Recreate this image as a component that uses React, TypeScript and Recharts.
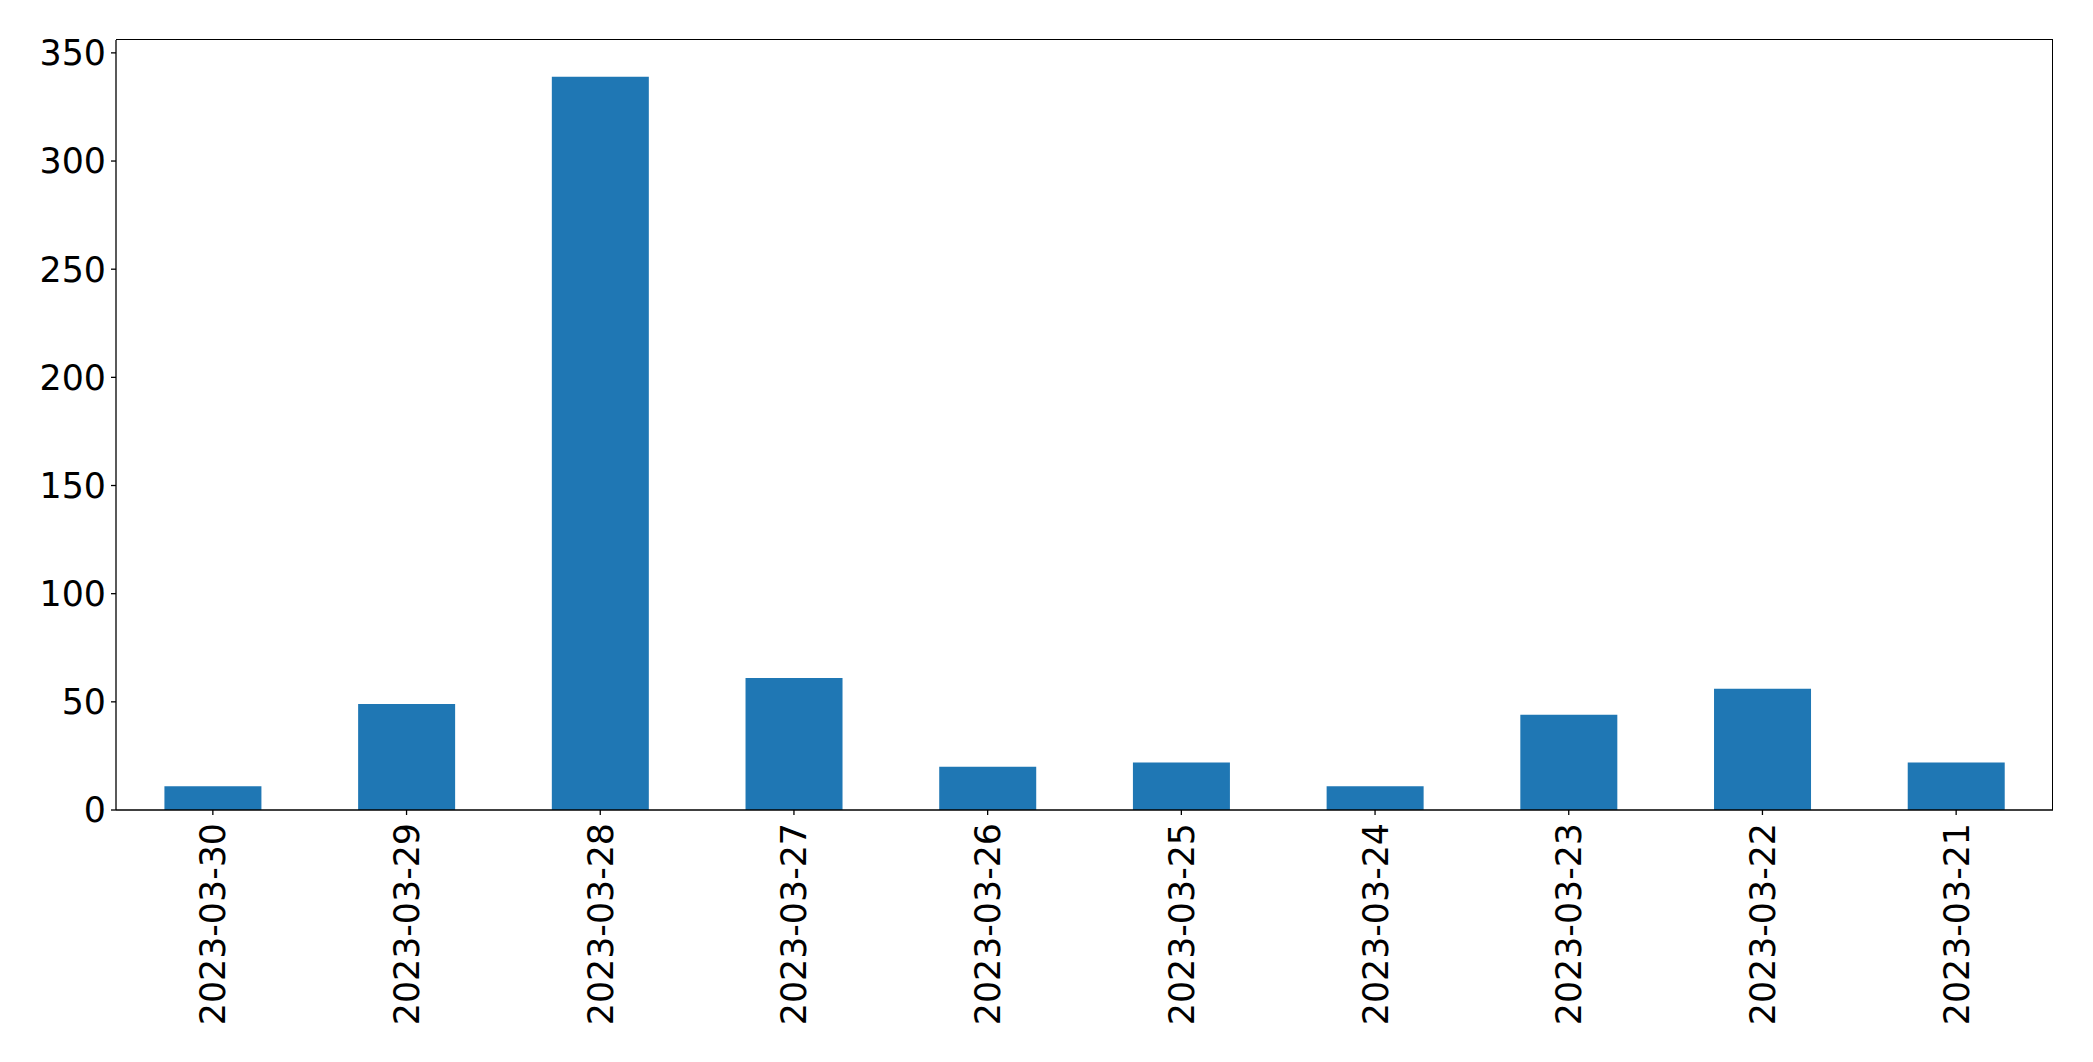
import React from 'react';
import { BarChart, Bar, XAxis, YAxis } from 'recharts';

const categories = ['2023-03-30', '2023-03-29', '2023-03-28', '2023-03-27', '2023-03-26', '2023-03-25', '2023-03-24', '2023-03-23', '2023-03-22', '2023-03-21'];
const values = [11, 49, 339, 61, 20, 22, 11, 44, 56, 22];
const yTicks = [0, 50, 100, 150, 200, 250, 300, 350];

const data = categories.map((c, i) => ({ date: c, value: values[i] }));
const yMax = Math.max(...values) * 1.05;

const FONT = 'DejaVu Sans';
const FS = 34.8;

const PLOT_LEFT = 116;
const PLOT_TOP = 40;
const PLOT_RIGHT = 40;
const PLOT_BOTTOM = 252;
const W = 2093;
const H = 1062;

const XTick = (props: any) => {
  const { x, y, payload } = props;
  return (
    <text
      x={x}
      y={y}
      transform={`rotate(-90, ${x}, ${y})`}
      textAnchor="end"
      dy="0.36em"
      fontSize={FS}
      fontFamily={FONT}
      fill="#000"
    >
      {payload.value}
    </text>
  );
};

export default function App() {
  return (
    <div style={{ position: 'absolute', left: 0, top: 0, width: W, height: H, background: '#fff' }}>
      <BarChart
        width={W}
        height={H}
        data={data}
        margin={{ top: PLOT_TOP, right: PLOT_RIGHT, left: 0, bottom: 0 }}
        barCategoryGap="25%"
      >
        <XAxis
          dataKey="date"
          height={PLOT_BOTTOM}
          tick={<XTick />}
          tickSize={5}
          tickMargin={8}
          interval={0}
          axisLine={{ stroke: '#000', strokeWidth: 1.3 }}
          tickLine={{ stroke: '#000', strokeWidth: 1.3 }}
        />
        <YAxis
          width={PLOT_LEFT}
          type="number"
          domain={[0, yMax]}
          ticks={yTicks}
          allowDataOverflow
          tickSize={5}
          tickMargin={5}
          tick={{ fontSize: FS, fontFamily: FONT, fill: '#000' }}
          axisLine={{ stroke: '#000', strokeWidth: 1.3 }}
          tickLine={{ stroke: '#000', strokeWidth: 1.3 }}
        />
        <Bar dataKey="value" fill="#1f77b4" isAnimationActive={false} />
      </BarChart>
      <div
        style={{
          position: 'absolute',
          left: PLOT_LEFT,
          top: PLOT_TOP - 0.65,
          width: W - PLOT_LEFT - PLOT_RIGHT - 0.65,
          height: H - PLOT_TOP - PLOT_BOTTOM,
          borderTop: '1.3px solid #000',
          borderRight: '1.3px solid #000',
          pointerEvents: 'none',
        }}
      />
    </div>
  );
}
